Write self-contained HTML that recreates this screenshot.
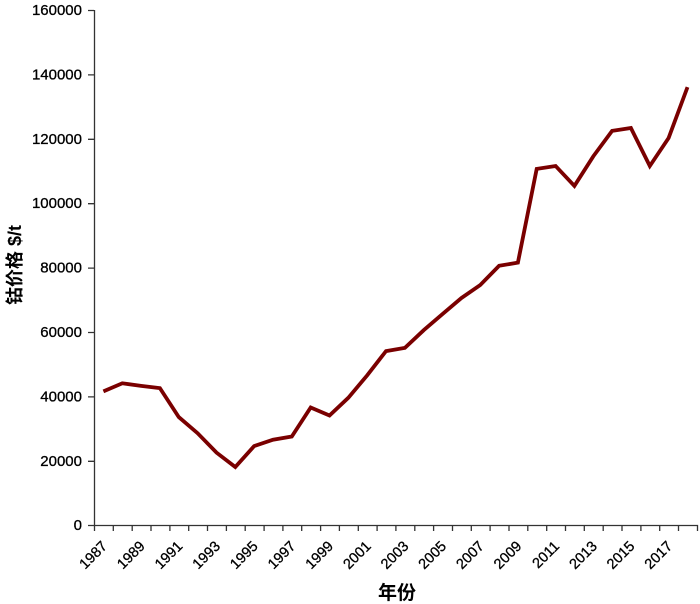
<!DOCTYPE html>
<html><head><meta charset="utf-8"><style>
body{margin:0;background:#fff}
svg{display:block}
text{font-family:"Liberation Sans","Noto Sans CJK SC",sans-serif;fill:#000}
</style></head><body>
<svg width="700" height="604" viewBox="0 0 700 604">
<g stroke="#333" stroke-width="1.3" fill="none">
<path d="M94.5 10 V525.5 H697.5 V531"/>
<path d="M88 10.5H94M88 74.9H94M88 139.3H94M88 203.7H94M88 268.1H94M88 332.5H94M88 396.9H94M88 461.3H94M88 525.5H94"/>
<path d="M94.5 525V531M113.3 525V531M132.2 525V531M151 525V531M169.9 525V531M188.7 525V531M207.5 525V531M226.4 525V531M245.2 525V531M264.1 525V531M282.9 525V531M301.7 525V531M320.6 525V531M339.4 525V531M358.3 525V531M377.1 525V531M395.9 525V531M414.8 525V531M433.6 525V531M452.5 525V531M471.3 525V531M490.1 525V531M509 525V531M527.8 525V531M546.7 525V531M565.5 525V531M584.3 525V531M603.2 525V531M622 525V531M640.9 525V531M659.7 525V531M678.5 525V531"/>
</g>
<g font-size="15" text-anchor="end" stroke="#000" stroke-width="0.3">
<text x="82" y="15">160000</text>
<text x="82" y="79.4">140000</text>
<text x="82" y="143.8">120000</text>
<text x="82" y="208.2">100000</text>
<text x="82" y="272.6">80000</text>
<text x="82" y="337">60000</text>
<text x="82" y="401.4">40000</text>
<text x="82" y="465.8">20000</text>
<text x="82" y="530">0</text>
</g>
<g font-size="14.5" text-anchor="end" stroke="#000" stroke-width="0.3">
<text transform="translate(108,547) rotate(-45)">1987</text>
<text transform="translate(145.7,547) rotate(-45)">1989</text>
<text transform="translate(183.4,547) rotate(-45)">1991</text>
<text transform="translate(221.1,547) rotate(-45)">1993</text>
<text transform="translate(258.7,547) rotate(-45)">1995</text>
<text transform="translate(296.4,547) rotate(-45)">1997</text>
<text transform="translate(334.1,547) rotate(-45)">1999</text>
<text transform="translate(371.8,547) rotate(-45)">2001</text>
<text transform="translate(409.5,547) rotate(-45)">2003</text>
<text transform="translate(447.1,547) rotate(-45)">2005</text>
<text transform="translate(484.8,547) rotate(-45)">2007</text>
<text transform="translate(522.5,547) rotate(-45)">2009</text>
<text transform="translate(560.2,547) rotate(-45)">2011</text>
<text transform="translate(597.9,547) rotate(-45)">2013</text>
<text transform="translate(635.5,547) rotate(-45)">2015</text>
<text transform="translate(673.2,547) rotate(-45)">2017</text>
</g>
<text x="397" y="599" font-size="19" font-weight="bold" text-anchor="middle">年份</text>
<text transform="translate(21,265) rotate(-90)" font-size="18" font-weight="bold" text-anchor="middle">钴价格 $/t</text>
<polyline fill="none" stroke="#7a0000" stroke-width="3.8" stroke-linejoin="miter" points="103.4,391.4 122.3,383.3 141.1,385.9 159.9,388.1 178.8,417.1 197.6,433.2 216.5,452.6 235.3,467 254.1,446.1 273,439.7 291.8,436.5 310.7,407.5 329.5,415.5 348.3,397.8 367.2,375.3 386,351.1 404.9,347.9 423.7,330.2 442.5,314.1 461.4,298 480.2,285.1 499.1,265.8 517.9,262.6 536.7,168.9 555.6,166 574.4,185.9 593.3,156.3 612.1,130.9 630.9,128 649.8,166 668.6,138 687.5,87.1"/>
</svg>
</body></html>
